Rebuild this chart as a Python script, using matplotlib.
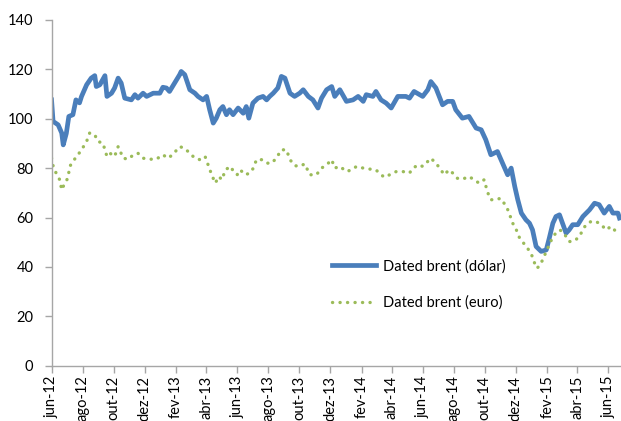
import matplotlib
matplotlib.use("Agg")
from matplotlib import pyplot as plt
import pandas as pd

# Dated brent, dollar series
usd_dates = [
    "2012-06-01", "2012-06-04", "2012-06-14", "2012-06-21", "2012-06-24", "2012-06-30",
    "2012-07-05", "2012-07-13", "2012-07-19", "2012-07-26", "2012-07-30", "2012-08-09",
    "2012-08-18", "2012-08-25", "2012-08-28", "2012-09-04", "2012-09-14", "2012-09-18",
    "2012-09-27", "2012-10-03", "2012-10-10", "2012-10-16", "2012-10-23", "2012-11-05",
    "2012-11-12", "2012-11-18", "2012-11-28", "2012-12-05", "2012-12-18", "2012-12-31",
    "2013-01-06", "2013-01-13", "2013-01-19", "2013-01-29", "2013-02-08", "2013-02-11",
    "2013-02-18", "2013-02-28", "2013-03-10", "2013-03-16", "2013-03-26", "2013-04-02",
    "2013-04-08", "2013-04-15", "2013-04-21", "2013-04-28", "2013-05-04", "2013-05-11",
    "2013-05-17", "2013-05-24", "2013-06-03", "2013-06-13", "2013-06-19", "2013-06-24",
    "2013-07-02", "2013-07-12", "2013-07-22", "2013-07-29", "2013-08-04", "2013-08-11",
    "2013-08-20", "2013-08-27", "2013-09-03", "2013-09-13", "2013-09-22", "2013-10-02",
    "2013-10-09", "2013-10-19", "2013-10-28", "2013-11-07", "2013-11-14", "2013-11-24",
    "2013-12-04", "2013-12-10", "2013-12-20", "2014-01-02", "2014-01-15", "2014-01-25",
    "2014-02-04", "2014-02-10", "2014-02-23", "2014-03-01", "2014-03-11", "2014-03-21",
    "2014-03-31", "2014-04-13", "2014-04-29", "2014-05-06", "2014-05-15", "2014-06-01",
    "2014-06-11", "2014-06-17", "2014-06-27", "2014-07-10", "2014-07-20", "2014-07-30",
    "2014-08-05", "2014-08-18", "2014-08-31", "2014-09-14", "2014-09-24", "2014-10-03",
    "2014-10-13", "2014-10-26", "2014-11-05", "2014-11-15", "2014-11-22", "2014-11-29",
    "2014-12-05", "2014-12-12", "2014-12-21", "2014-12-28", "2015-01-03", "2015-01-10",
    "2015-01-20", "2015-01-30", "2015-02-05", "2015-02-12", "2015-02-18", "2015-02-25",
    "2015-03-03", "2015-03-10", "2015-03-16", "2015-03-23", "2015-04-02", "2015-04-12",
    "2015-04-25", "2015-05-05", "2015-05-14", "2015-05-24", "2015-06-03", "2015-06-10",
    "2015-06-20", "2015-06-23",
]
usd_values = [
    107.6, 98.9, 97.5, 94.2, 89.4, 94.0,
    100.9, 101.6, 107.6, 106.4, 109.0, 113.7,
    116.4, 117.4, 113.0, 113.7, 117.4, 109.0,
    110.3, 112.4, 116.4, 114.4, 108.3, 107.6,
    109.7, 108.3, 110.3, 109.0, 110.3, 110.3,
    112.7, 112.4, 111.0, 114.4, 117.8, 119.1,
    117.8, 111.7, 110.3, 109.0, 107.6, 109.0,
    103.6, 98.2, 100.2, 103.6, 104.9, 101.6,
    103.6, 101.6, 104.3, 102.2, 104.9, 100.2,
    106.3, 108.3, 109.0, 107.6, 109.0, 110.3,
    112.4, 117.1, 116.4, 110.3, 109.0, 110.3,
    111.7, 109.0, 107.6, 104.3, 108.3, 111.7,
    113.0, 109.0, 111.7, 107.0, 107.6, 109.0,
    107.0, 109.7, 109.0, 111.0, 107.6, 106.3,
    104.3, 109.0, 109.0, 108.3, 111.0, 109.0,
    111.7, 115.0, 112.4, 105.6, 107.0, 107.0,
    103.6, 100.2, 100.9, 96.2, 95.5, 91.5,
    85.4, 86.7, 82.0, 77.3, 80.0, 72.6,
    67.2, 61.8, 59.1, 57.7, 55.0, 48.3,
    46.3, 46.9, 51.7, 57.7, 60.4, 61.1,
    57.7, 53.7, 55.0, 57.1, 57.1, 60.4,
    63.1, 65.8, 65.2, 61.8, 64.5, 61.8,
    61.8, 59.8,
]

# Dated brent, euro series
eur_dates = [
    "2012-06-01", "2012-06-05", "2012-06-10", "2012-06-17", "2012-06-21", "2012-06-27",
    "2012-07-03", "2012-07-07", "2012-07-13", "2012-07-23", "2012-07-30", "2012-08-09",
    "2012-08-15", "2012-08-25", "2012-08-31", "2012-09-10", "2012-09-18", "2012-09-24",
    "2012-10-03", "2012-10-10", "2012-10-20", "2012-10-30", "2012-11-09", "2012-11-18",
    "2012-11-28", "2012-12-11", "2012-12-24", "2013-01-06", "2013-01-16", "2013-01-25",
    "2013-02-08", "2013-02-18", "2013-02-28", "2013-03-10", "2013-03-20", "2013-03-30",
    "2013-04-06", "2013-04-12", "2013-04-19", "2013-04-26", "2013-05-02", "2013-05-09",
    "2013-05-19", "2013-05-25", "2013-06-01", "2013-06-07", "2013-06-17", "2013-06-26",
    "2013-07-03", "2013-07-09", "2013-07-19", "2013-07-29", "2013-08-08", "2013-08-17",
    "2013-08-27", "2013-09-06", "2013-09-13", "2013-09-22", "2013-10-02", "2013-10-12",
    "2013-10-22", "2013-11-04", "2013-11-14", "2013-11-24", "2013-12-04", "2013-12-10",
    "2013-12-20", "2014-01-02", "2014-01-12", "2014-01-22", "2014-02-04", "2014-02-17",
    "2014-03-01", "2014-03-11", "2014-03-18", "2014-03-28", "2014-04-10", "2014-04-23",
    "2014-05-06", "2014-05-13", "2014-05-23", "2014-06-01", "2014-06-11", "2014-06-17",
    "2014-06-27", "2014-07-07", "2014-07-13", "2014-07-23", "2014-07-30", "2014-08-08",
    "2014-08-18", "2014-08-31", "2014-09-10", "2014-09-20", "2014-09-30", "2014-10-06",
    "2014-10-13", "2014-10-23", "2014-11-01", "2014-11-08", "2014-11-14", "2014-11-18",
    "2014-11-25", "2014-12-01", "2014-12-08", "2014-12-14", "2014-12-24", "2014-12-31",
    "2015-01-07", "2015-01-11", "2015-01-16", "2015-01-23", "2015-01-30", "2015-02-05",
    "2015-02-12", "2015-02-18", "2015-02-25", "2015-03-03", "2015-03-10", "2015-03-16",
    "2015-03-23", "2015-03-29", "2015-04-05", "2015-04-12", "2015-04-18", "2015-04-28",
    "2015-05-08", "2015-05-18", "2015-05-28", "2015-06-06", "2015-06-16", "2015-06-23",
]
eur_values = [
    84.0, 80.0, 78.0, 75.3, 71.2, 73.9,
    75.9, 80.7, 82.7, 85.4, 87.4, 90.8,
    94.2, 93.5, 90.8, 90.1, 84.7, 86.0,
    84.7, 88.7, 84.0, 83.6, 85.4, 86.0,
    84.0, 83.6, 83.6, 85.4, 84.0, 85.4,
    88.7, 88.0, 86.0, 84.0, 83.4, 84.7,
    80.7, 77.3, 73.9, 76.6, 75.3, 79.3,
    80.7, 78.6, 77.3, 79.3, 77.3, 78.0,
    80.0, 83.4, 83.4, 82.0, 82.0, 84.0,
    87.4, 87.4, 83.4, 81.0, 80.7, 81.7,
    77.3, 77.3, 80.0, 81.3, 83.4, 80.0,
    80.7, 78.6, 79.3, 80.7, 80.0, 79.6,
    79.3, 77.3, 76.3, 77.3, 78.6, 78.6,
    78.0, 80.0, 81.3, 80.7, 82.7, 84.0,
    82.0, 79.3, 77.3, 79.3, 78.0, 75.9,
    75.5, 76.6, 75.3, 73.9, 75.3, 70.5,
    67.2, 67.2, 67.8, 65.8, 63.8, 61.8,
    57.7, 55.6, 52.0, 50.3, 47.6, 45.6,
    41.6, 39.5, 40.2, 42.9, 46.3, 49.0,
    52.3, 53.7, 55.0, 54.4, 52.3, 50.3,
    50.3, 51.0, 52.3, 55.0, 57.1, 58.4,
    58.4, 57.1, 55.0, 56.4, 54.4, 53.0,
]

tick_dates = ["2012-06-01", "2012-08-01", "2012-10-01", "2012-12-01", "2013-02-01",
              "2013-04-01", "2013-06-01", "2013-08-01", "2013-10-01", "2013-12-01",
              "2014-02-01", "2014-04-01", "2014-06-01", "2014-08-01", "2014-10-01",
              "2014-12-01", "2015-02-01", "2015-04-01", "2015-06-01"]
tick_labels = ["jun-12", "ago-12", "out-12", "dez-12", "fev-13", "abr-13", "jun-13",
               "ago-13", "out-13", "dez-13", "fev-14", "abr-14", "jun-14", "ago-14",
               "out-14", "dez-14", "fev-15", "abr-15", "jun-15"]

plt.rcParams["font.family"] = ["Lato", "DejaVu Sans"]

fig = plt.figure(figsize=(6.21, 4.21), dpi=100)
ax = fig.add_axes([0.083, 0.131, 0.917, 0.822])

ax.plot(pd.to_datetime(usd_dates), usd_values, color="#4A7EBB", lw=3.4,
        solid_joinstyle="round", label="Dated brent (dólar)")
ax.plot(pd.to_datetime(eur_dates), eur_values, color="#9BBB59", lw=2.4,
        linestyle=(0, (0.05, 2.2)), dash_capstyle="round",
        label="Dated brent (euro)")

ax.set_ylim(0, 140)
ax.set_yticks(range(0, 141, 20))
ax.set_xlim(pd.Timestamp("2012-06-01"), pd.Timestamp("2015-06-26"))
ax.set_xticks(pd.to_datetime(tick_dates))
ax.set_xticklabels(tick_labels, rotation=90)

for side in ["top", "right"]:
    ax.spines[side].set_visible(False)
for side in ["left", "bottom"]:
    ax.spines[side].set_color("#A6A6A6")
    ax.spines[side].set_linewidth(1.0)
ax.tick_params(axis="both", colors="#A6A6A6", length=5, width=1.0,
               labelcolor="black", labelsize=10.5)
ax.tick_params(axis="y", pad=8)
ax.tick_params(axis="x", pad=2)

ax.legend(loc="center left", bbox_to_anchor=(0.48, 0.235), frameon=False,
          fontsize=10.5, handlelength=3.0, handletextpad=0.5,
          labelspacing=1.5, borderpad=0)

fig.savefig("out.png", dpi=100)
